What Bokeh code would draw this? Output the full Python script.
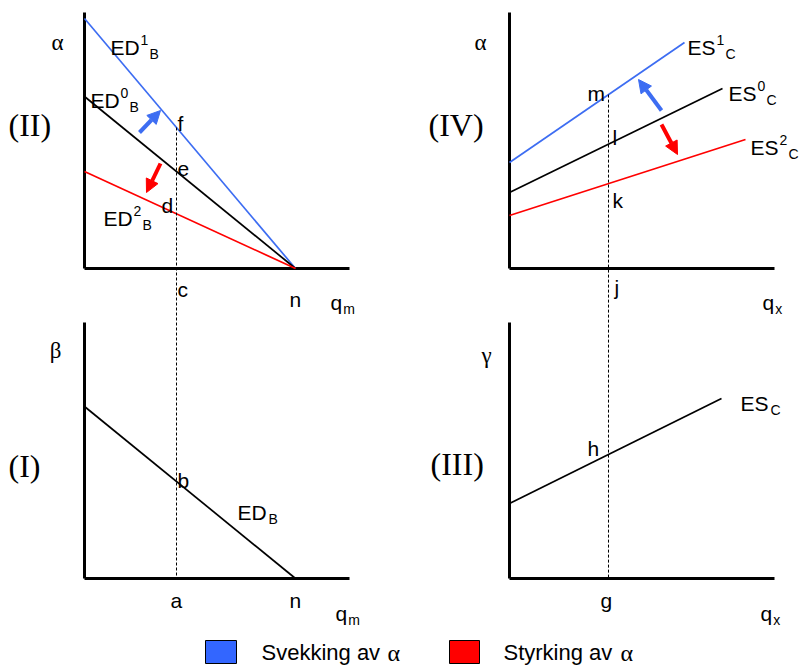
from bokeh.plotting import figure
from bokeh.models import Range1d, ColumnDataSource, Arrow, NormalHead
from bokeh.core.properties import value
from bokeh.embed import file_html
from bokeh.resources import INLINE

# ---------------- data (panel units: quantity to the right, price up) ----------------
# Panel II : excess demand ED_B in (q_m, alpha)
ed_names = ["1", "0", "2"]                 # ED1_B (weak alpha), ED0_B, ED2_B (strong alpha)
ed_alpha_intercept = [250, 172, 97]
n_qm = 211                                  # n : where all ED curves hit the q_m axis
c_qm = 92                                   # c / a : the traded quantity
# Panel IV : export supply ES_C in (q_x, alpha)
es_names = ["1", "0", "2"]
es_alpha_start = [106, 76, 53]
es_q_end = [175, 213, 236]
es_alpha_end = [226, 180, 129]
j_qx = 99                                   # j / g : the traded quantity
# Panel I : ED_B in (q_m, beta)
edb_beta_intercept = 172
# Panel III : ES_C in (q_x, gamma)
esc_gamma_start = 75
esc_q_end = 212
esc_gamma_end = 180
# axes extents
axis_q_len = 265
axis_p_len = 256
# legend
legend_labels = ["Svekking av", "Styrking av"]

BLUE = "#3d6df2"
RED = "#ff0000"
SANS = "Liberation Sans"
SERIF = "Liberation Serif"

# panel origins (page pixels, y downward)
O2 = (84, 268)
O4 = (509, 268)
O1 = (84, 578)
O3 = (509, 578)


def P(o, q, v):
    return o[0] + q, o[1] - v


p = figure(width=802, height=667, x_range=Range1d(0, 802), y_range=Range1d(667, 0),
           output_backend="svg", toolbar_location=None, min_border=0)
p.xaxis.visible = False
p.yaxis.visible = False
p.xgrid.visible = False
p.ygrid.visible = False
p.outline_line_color = None
p.background_fill_color = "white"
p.border_fill_color = "white"

# ---- axes of the four panels ----
ax = dict(x0=[], y0=[], x1=[], y1=[])
for o in (O2, O4, O1, O3):
    for (a, b) in ((P(o, 0, axis_p_len), P(o, 0, 0)), (P(o, 0, 0), P(o, axis_q_len, 0))):
        ax["x0"].append(a[0]); ax["y0"].append(a[1]); ax["x1"].append(b[0]); ax["y1"].append(b[1])
p.segment("x0", "y0", "x1", "y1", source=ColumnDataSource(ax), line_color="black", line_width=3)

# ---- curves ----
cols = [BLUE, "black", RED]
seg = dict(x0=[], y0=[], x1=[], y1=[], c=[])
for a0, c in zip(ed_alpha_intercept, cols):
    s, e = P(O2, 0, a0), P(O2, n_qm, 0)
    seg["x0"].append(s[0]); seg["y0"].append(s[1]); seg["x1"].append(e[0]); seg["y1"].append(e[1]); seg["c"].append(c)
for a0, qe, a1, c in zip(es_alpha_start, es_q_end, es_alpha_end, cols):
    s, e = P(O4, 0, a0), P(O4, qe, a1)
    seg["x0"].append(s[0]); seg["y0"].append(s[1]); seg["x1"].append(e[0]); seg["y1"].append(e[1]); seg["c"].append(c)
s, e = P(O1, 0, edb_beta_intercept), P(O1, n_qm, 0)
seg["x0"].append(s[0]); seg["y0"].append(s[1]); seg["x1"].append(e[0]); seg["y1"].append(e[1]); seg["c"].append("black")
s, e = P(O3, 0, esc_gamma_start), P(O3, esc_q_end, esc_gamma_end)
seg["x0"].append(s[0]); seg["y0"].append(s[1]); seg["x1"].append(e[0]); seg["y1"].append(e[1]); seg["c"].append("black")
p.segment("x0", "y0", "x1", "y1", source=ColumnDataSource(seg), line_color="c", line_width=1.7)

# ---- dashed guide lines ----
f_alpha = ed_alpha_intercept[0] * (1 - c_qm / n_qm)
m_alpha = es_alpha_start[0] + j_qx * (es_alpha_end[0] - es_alpha_start[0]) / es_q_end[0]
fx, fy = P(O2, c_qm, f_alpha)
mx, my = P(O4, j_qx, m_alpha)
ax_, ay_ = P(O1, c_qm, 0)
gx_, gy_ = P(O3, j_qx, 0)
p.segment([fx, mx], [fy, my], [ax_, gx_], [ay_, gy_], line_color="black", line_width=1, line_dash="3 2")

# ---- shift arrows ----
arrows = [
    (O2, (55, 136), (76, 158), BLUE),
    (O2, (76, 105), (62, 76), RED),
    (O4, (152, 158), (129, 189), BLUE),
    (O4, (152, 144), (168, 114), RED),
]
for o, st, en, c in arrows:
    x0, y0 = P(o, *st)
    x1, y1 = P(o, *en)
    p.add_layout(Arrow(end=NormalHead(size=13, fill_color=c, line_color=c),
                       x_start=x0, y_start=y0, x_end=x1, y_end=y1,
                       line_color=c, line_width=4))

# ---- legend boxes ----
p.quad(left=[205, 449], right=[236, 479], top=[640, 640], bottom=[663, 663],
       fill_color=["#3366ff", RED], line_color="black", line_width=1)

# ---- texts ----
def add_text(items, font, size, align="left", baseline="alphabetic"):
    src = ColumnDataSource(dict(x=[i[0] for i in items], y=[i[1] for i in items], t=[i[2] for i in items]))
    p.text("x", "y", text="t", source=src, text_font=value(font), text_font_size=value(size),
           text_align=align, text_baseline=baseline, text_color="black")

main = []
small = []

def compound(x, y, base, sup, sub):
    main.append((x, y, base))
    w = 11.7
    if base == "ED":
        w = 30
    if base == "ES":
        w = 29
    if sup:
        small.append((x + w, y - 8, sup))
        small.append((x + w + 9, y + 6, sub))
    else:
        small.append((x + w + 1, y + 6, sub))

compound(110, 47, "ED", "1", "B")
compound(90, 100, "ED", "0", "B")
compound(103, 218, "ED", "2", "B")
compound(687, 47, "ES", "1", "C")
compound(728, 93, "ES", "0", "C")
compound(750, 147, "ES", "2", "C")
compound(237, 512, "ED", None, "B")
compound(740, 403, "ES", None, "C")
compound(330, 302, "q", None, "m")
compound(335, 613, "q", None, "m")
compound(762, 302, "q", None, "x")
compound(760, 613, "q", None, "x")

main += [(177, 123, "f"), (177, 168, "e"), (161, 205, "d"), (177, 289, "c"), (289, 299, "n"),
         (177, 480, "b"), (170, 600, "a"), (289, 600, "n"),
         (587, 93, "m"), (612, 137, "l"), (612, 200, "k"), (614, 287, "j"),
         (587, 448, "h"), (600, 600, "g")]

add_text(main, SANS, "21px")
add_text(small, SANS, "14px")
add_text([(57, 42, "α"), (55, 350, "β"), (480, 42, "α"), (486, 355, "γ")], SERIF, "23px",
         align="center", baseline="middle")
add_text([(8, 124, "(II)"), (428, 124, "(IV)"), (8, 465, "(I)"), (430, 463, "(III)")], SERIF, "32px",
         baseline="middle")
add_text([(261, 652, legend_labels[0]), (503, 652, legend_labels[1])], SANS, "22px", baseline="middle")
add_text([(387, 652, "α"), (620, 652, "α")], SERIF, "24px", baseline="middle")

open("out.html", "w").write(file_html(p, INLINE))
